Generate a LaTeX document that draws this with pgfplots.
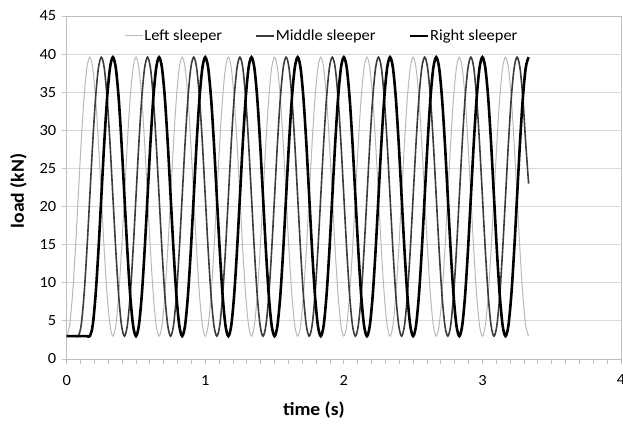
\documentclass[border=0pt]{standalone}
\usepackage{pgfplots}
\pgfplotsset{compat=1.18}
\usepackage{pgfplotstable}
\usepackage{fontspec}
\setmainfont{Carlito}[FakeStretch=1.06]

\definecolor{leftgray}{RGB}{185,185,185}
\definecolor{midgray}{RGB}{60,60,60}
\definecolor{gridgray}{RGB}{217,217,217}
\definecolor{axisgray}{RGB}{190,190,190}

% t (s), load (kN) on left, middle and right sleeper
\pgfplotstableread{
t L M R
0 3.00 3.00 3.00
0.0208 4.39 3.00 3.00
0.0417 8.36 3.00 3.00
0.0625 14.30 3.00 3.00
0.0833 21.30 3.00 3.00
0.1042 28.30 4.39 3.00
0.125 34.24 8.36 3.00
0.1458 38.21 14.30 3.00
0.1667 39.60 21.30 3.00
0.1875 38.21 28.30 4.39
0.2083 34.24 34.24 8.36
0.2292 28.30 38.21 14.30
0.25 21.30 39.60 21.30
0.2708 14.30 38.21 28.30
0.2917 8.36 34.24 34.24
0.3125 4.39 28.30 38.21
0.3333 3.00 21.30 39.60
0.3542 4.39 14.30 38.21
0.375 8.36 8.36 34.24
0.3958 14.30 4.39 28.30
0.4167 21.30 3.00 21.30
0.4375 28.30 4.39 14.30
0.4583 34.24 8.36 8.36
0.4792 38.21 14.30 4.39
0.5 39.60 21.30 3.00
0.5208 38.21 28.30 4.39
0.5417 34.24 34.24 8.36
0.5625 28.30 38.21 14.30
0.5833 21.30 39.60 21.30
0.6042 14.30 38.21 28.30
0.625 8.36 34.24 34.24
0.6458 4.39 28.30 38.21
0.6667 3.00 21.30 39.60
0.6875 4.39 14.30 38.21
0.7083 8.36 8.36 34.24
0.7292 14.30 4.39 28.30
0.75 21.30 3.00 21.30
0.7708 28.30 4.39 14.30
0.7917 34.24 8.36 8.36
0.8125 38.21 14.30 4.39
0.8333 39.60 21.30 3.00
0.8542 38.21 28.30 4.39
0.875 34.24 34.24 8.36
0.8958 28.30 38.21 14.30
0.9167 21.30 39.60 21.30
0.9375 14.30 38.21 28.30
0.9583 8.36 34.24 34.24
0.9792 4.39 28.30 38.21
1 3.00 21.30 39.60
1.0208 4.39 14.30 38.21
1.0417 8.36 8.36 34.24
1.0625 14.30 4.39 28.30
1.0833 21.30 3.00 21.30
1.1042 28.30 4.39 14.30
1.125 34.24 8.36 8.36
1.1458 38.21 14.30 4.39
1.1667 39.60 21.30 3.00
1.1875 38.21 28.30 4.39
1.2083 34.24 34.24 8.36
1.2292 28.30 38.21 14.30
1.25 21.30 39.60 21.30
1.2708 14.30 38.21 28.30
1.2917 8.36 34.24 34.24
1.3125 4.39 28.30 38.21
1.3333 3.00 21.30 39.60
1.3542 4.39 14.30 38.21
1.375 8.36 8.36 34.24
1.3958 14.30 4.39 28.30
1.4167 21.30 3.00 21.30
1.4375 28.30 4.39 14.30
1.4583 34.24 8.36 8.36
1.4792 38.21 14.30 4.39
1.5 39.60 21.30 3.00
1.5208 38.21 28.30 4.39
1.5417 34.24 34.24 8.36
1.5625 28.30 38.21 14.30
1.5833 21.30 39.60 21.30
1.6042 14.30 38.21 28.30
1.625 8.36 34.24 34.24
1.6458 4.39 28.30 38.21
1.6667 3.00 21.30 39.60
1.6875 4.39 14.30 38.21
1.7083 8.36 8.36 34.24
1.7292 14.30 4.39 28.30
1.75 21.30 3.00 21.30
1.7708 28.30 4.39 14.30
1.7917 34.24 8.36 8.36
1.8125 38.21 14.30 4.39
1.8333 39.60 21.30 3.00
1.8542 38.21 28.30 4.39
1.875 34.24 34.24 8.36
1.8958 28.30 38.21 14.30
1.9167 21.30 39.60 21.30
1.9375 14.30 38.21 28.30
1.9583 8.36 34.24 34.24
1.9792 4.39 28.30 38.21
2 3.00 21.30 39.60
2.0208 4.39 14.30 38.21
2.0417 8.36 8.36 34.24
2.0625 14.30 4.39 28.30
2.0833 21.30 3.00 21.30
2.1042 28.30 4.39 14.30
2.125 34.24 8.36 8.36
2.1458 38.21 14.30 4.39
2.1667 39.60 21.30 3.00
2.1875 38.21 28.30 4.39
2.2083 34.24 34.24 8.36
2.2292 28.30 38.21 14.30
2.25 21.30 39.60 21.30
2.2708 14.30 38.21 28.30
2.2917 8.36 34.24 34.24
2.3125 4.39 28.30 38.21
2.3333 3.00 21.30 39.60
2.3542 4.39 14.30 38.21
2.375 8.36 8.36 34.24
2.3958 14.30 4.39 28.30
2.4167 21.30 3.00 21.30
2.4375 28.30 4.39 14.30
2.4583 34.24 8.36 8.36
2.4792 38.21 14.30 4.39
2.5 39.60 21.30 3.00
2.5208 38.21 28.30 4.39
2.5417 34.24 34.24 8.36
2.5625 28.30 38.21 14.30
2.5833 21.30 39.60 21.30
2.6042 14.30 38.21 28.30
2.625 8.36 34.24 34.24
2.6458 4.39 28.30 38.21
2.6667 3.00 21.30 39.60
2.6875 4.39 14.30 38.21
2.7083 8.36 8.36 34.24
2.7292 14.30 4.39 28.30
2.75 21.30 3.00 21.30
2.7708 28.30 4.39 14.30
2.7917 34.24 8.36 8.36
2.8125 38.21 14.30 4.39
2.8333 39.60 21.30 3.00
2.8542 38.21 28.30 4.39
2.875 34.24 34.24 8.36
2.8958 28.30 38.21 14.30
2.9167 21.30 39.60 21.30
2.9375 14.30 38.21 28.30
2.9583 8.36 34.24 34.24
2.9792 4.39 28.30 38.21
3 3.00 21.30 39.60
3.0208 4.39 14.30 38.21
3.0417 8.36 8.36 34.24
3.0625 14.30 4.39 28.30
3.0833 21.30 3.00 21.30
3.1042 28.30 4.39 14.30
3.125 34.24 8.36 8.36
3.1458 38.21 14.30 4.39
3.1667 39.60 21.30 3.00
3.1875 38.21 28.30 4.39
3.2083 34.24 34.24 8.36
3.2292 28.30 38.21 14.30
3.25 21.30 39.60 21.30
3.2708 14.30 38.21 28.30
3.2917 8.36 34.24 34.24
3.3125 4.39 28.30 38.21
3.3333 3.00 23.00 39.60
}\loads

\begin{document}
\begin{tikzpicture}[x=1pt,y=1pt]
\useasboundingbox (0,0) rectangle (623,423);
\begin{axis}[
  at={(66.7pt,64pt)}, anchor=south west,
  scale only axis, width=554.3pt, height=343pt,
  xmin=0, xmax=4, ymin=0, ymax=45,
  xtick={0,1,2,3,4}, minor x tick num=9,
  ytick={0,5,...,45},
  xtick pos=lower, ytick pos=left,
  tick align=outside,
  major tick length=5pt, minor tick length=5pt,
  tick style={axisgray, line width=0.8pt},
  axis line style={axisgray, line width=0.8pt},
  ymajorgrids, major grid style={gridgray, line width=0.9pt},
  /pgf/number format/assume math mode=true,
  tick label style={font=\fontsize{15.5}{15.5}\selectfont},
  xticklabel shift=7.5pt, yticklabel shift=2pt,
  xlabel={time (s)}, ylabel={load (kN)},
  label style={font=\fontsize{18.5}{18.5}\selectfont\bfseries},
  xlabel style={at={(axis description cs:0.446,-0.1487)}, anchor=center},
  ylabel style={at={(axis description cs:-0.087,0.49)}, anchor=center},
  legend columns=3,
  legend style={at={(0.4595,0.942)}, anchor=center, draw=none, fill=none,
    font=\fontsize{15.5}{15.5}\selectfont, inner sep=0pt,
    nodes={inner xsep=1pt},
    /tikz/every even column/.append style={column sep=32pt}},
  legend cell align=left,
  legend image code/.code={\draw[#1] (0pt,0pt) -- (18pt,0pt);},
]
\addplot[leftgray, line width=1pt, smooth] table[x=t, y=L] {\loads};
\addlegendentry{Left sleeper}
\addplot[midgray, line width=1.6pt, smooth] table[x=t, y=M] {\loads};
\addlegendentry{Middle sleeper}
\addplot[black, line width=2.6pt, smooth] table[x=t, y=R] {\loads};
\addlegendentry{Right sleeper}
\end{axis}
\end{tikzpicture}
\end{document}
